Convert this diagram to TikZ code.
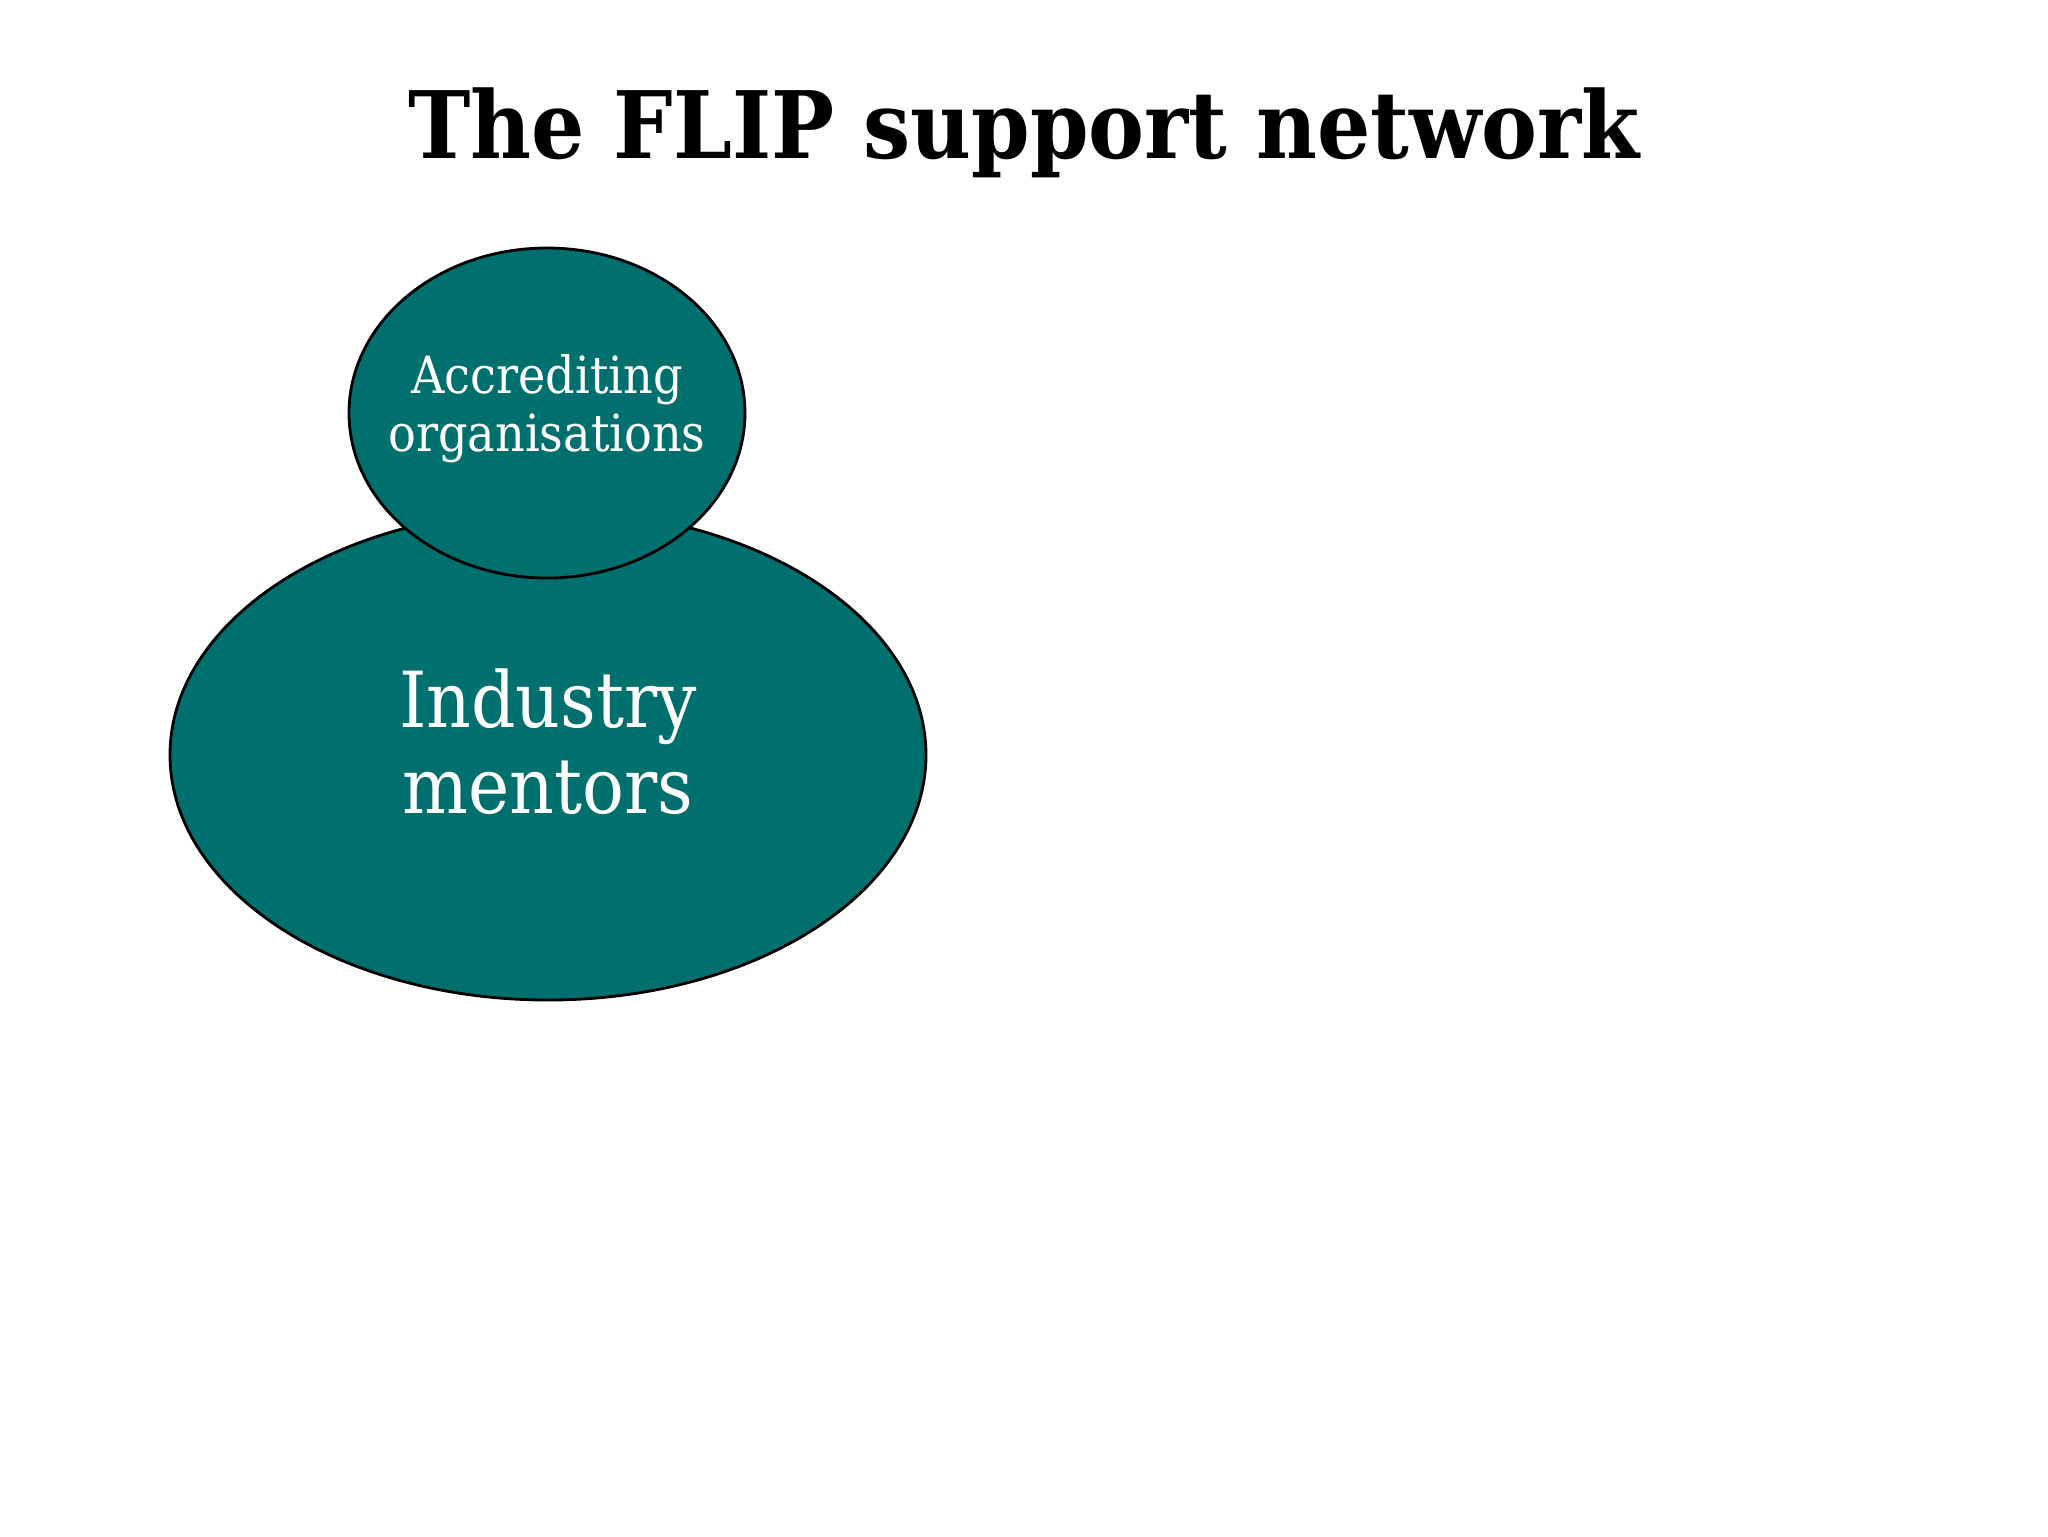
\documentclass[tikz,border=0pt]{standalone}
\usepackage{fontspec}
\setmainfont{DejaVu Serif Condensed}
\usetikzlibrary{shapes.geometric}
\definecolor{tealfill}{HTML}{00706E}
\tikzset{
  blob/.style={ellipse, draw=black, line width=0.8pt, fill=tealfill, inner sep=0pt},
  blobtext/.style={text=white, inner sep=0pt, align=center},
  titletext/.style={font=\fontsize{26.5}{32}\selectfont\bfseries, text=black, inner sep=0pt, anchor=base}
}
\begin{document}
\begin{tikzpicture}[x=0.1mm,y=-0.1mm]
\useasboundingbox (0,0) rectangle (2048,1536);
\node[titletext] (title) at (1024,158) {The FLIP support network};
\node[blob, minimum width=75.6mm, minimum height=49mm] (mentors) at (548,755) {};
\node[blobtext, font=\fontsize{22}{24.5}\selectfont] (mentorslabel) at (548,742) {Industry\\mentors};
\node[blob, minimum width=39.6mm, minimum height=33mm] (accred) at (547,413) {};
\node[blobtext, font=\fontsize{14.6}{16.5}\selectfont] (accredlabel) at (547,409) {Accrediting\\organisations};
\end{tikzpicture}
\end{document}
